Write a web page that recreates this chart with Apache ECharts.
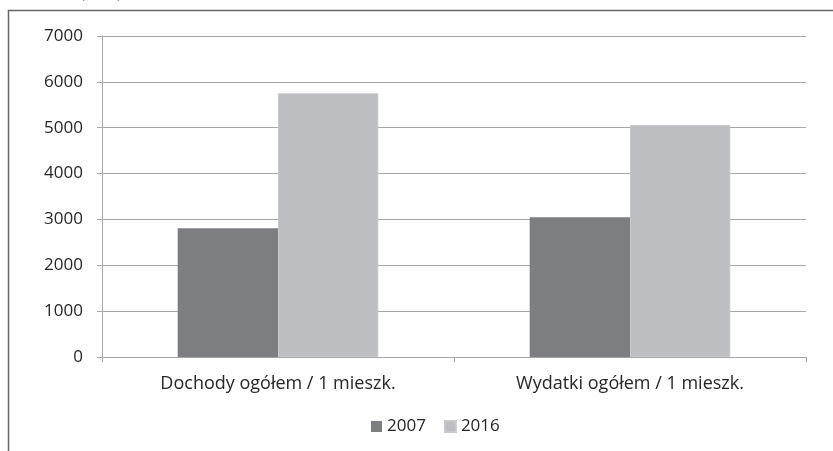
<!DOCTYPE html>
<html>
<head>
<meta charset="utf-8">
<script src="https://cdn.jsdelivr.net/npm/echarts@6/dist/echarts.min.js"></script>
<style>html,body{margin:0;padding:0;background:#fff}#c{width:833px;height:451px}</style>
</head>
<body>
<div id="c"></div>
<script>
const categories = ['Dochody ogółem / 1 mieszk.', 'Wydatki ogółem / 1 mieszk.'];
const seriesNames = ['2007', '2016'];
const values2007 = [2810, 3045];
const values2016 = [5750, 5060];
const yTicks = [0, 1000, 2000, 3000, 4000, 5000, 6000, 7000];

const FONT = '"Open Sans", "Liberation Sans", sans-serif';
const chart = echarts.init(document.getElementById('c'), null, {renderer: 'canvas'});
chart.setOption({
  animation: false,
  backgroundColor: '#ffffff',
  textStyle: {fontFamily: FONT},
  graphic: [
    {type: 'rect', shape: {x: 8.5, y: 10.5, width: 900, height: 600}, style: {fill: 'none', stroke: '#666666', lineWidth: 1.5}, silent: true},
    {type: 'text', left: 80, top: -15, style: {text: '(PLN)', fontSize: 17, fill: '#333333', fontFamily: FONT}}
  ],
  grid: {left: 102, right: 27, top: 36, bottom: 94, containLabel: false},
  legend: {
    data: seriesNames,
    bottom: 11,
    left: 366,
    itemWidth: 11,
    itemHeight: 11,
    itemGap: 18,
    icon: 'rect',
    textStyle: {fontSize: 17, color: '#262626', fontFamily: FONT}
  },
  xAxis: {
    type: 'category',
    data: categories,
    axisLine: {lineStyle: {color: '#a6a6a6', width: 1}},
    axisTick: {show: true, length: 5, alignWithLabel: false, lineStyle: {color: '#a6a6a6'}},
    axisLabel: {fontSize: 18, color: '#262626', margin: 18, fontFamily: FONT}
  },
  yAxis: {
    type: 'value',
    min: yTicks[0],
    max: yTicks[yTicks.length - 1],
    interval: 1000,
    axisLine: {show: true, lineStyle: {color: '#a6a6a6', width: 1}},
    axisTick: {show: true, length: 5, lineStyle: {color: '#a6a6a6'}},
    splitLine: {lineStyle: {color: '#a6a6a6', width: 1}},
    axisLabel: {fontSize: 17, color: '#262626', margin: 19, fontFamily: FONT, formatter: v => String(v)}
  },
  series: [
    {name: seriesNames[0], type: 'bar', data: values2007, barGap: '0%', barCategoryGap: '43%',
     itemStyle: {color: '#7d7e82'}},
    {name: seriesNames[1], type: 'bar', data: values2016, barGap: '0%', barCategoryGap: '43%',
     itemStyle: {color: '#bdbec2', borderColor: '#c8c9cc', borderWidth: 1}}
  ]
});
</script>
</body>
</html>
